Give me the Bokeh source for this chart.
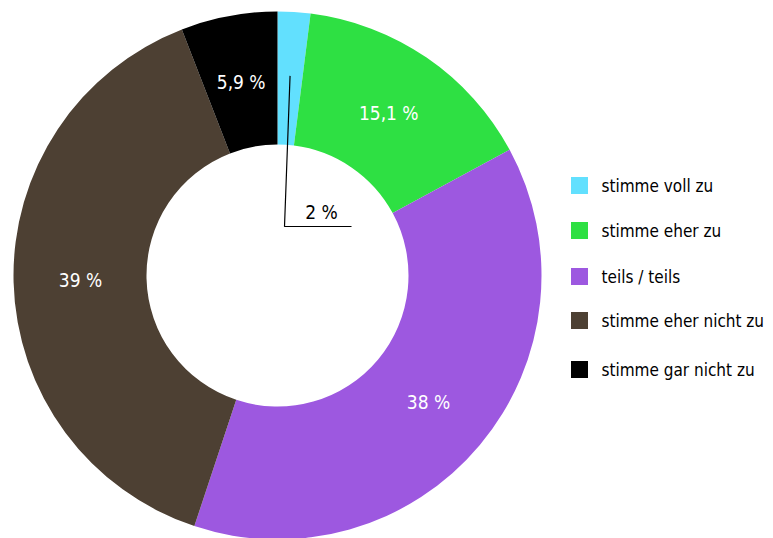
import math
from bokeh.plotting import figure
from bokeh.models import Range1d, ColumnDataSource
from bokeh.core.properties import value
from bokeh.embed import file_html
from bokeh.resources import INLINE

categories = ["stimme voll zu", "stimme eher zu", "teils / teils", "stimme eher nicht zu", "stimme gar nicht zu"]
values = [2.0, 15.1, 38.0, 39.0, 5.9]
labels = ["2 %", "15,1 %", "38 %", "39 %", "5,9 %"]
colors = ["#62e0fe", "#2ee043", "#9d58e0", "#4d4033", "#000000"]

W, H = 773, 538
FONT = "DejaVu Sans Condensed, DejaVu Sans"

p = figure(width=W, height=H, output_backend="svg", toolbar_location=None,
           x_range=Range1d(0, W), y_range=Range1d(0, H), min_border=0)
p.axis.visible = False
p.grid.visible = False
p.outline_line_color = None

cx, cy = 277, H - 275
r_in, r_out = 131, 264
total = sum(values)
starts, ends, mids = [], [], []
cum = 0.0
for v in values:
    a0 = math.pi / 2 - 2 * math.pi * cum / total
    cum += v
    a1 = math.pi / 2 - 2 * math.pi * cum / total
    starts.append(a0)
    ends.append(a1)
    mids.append((a0 + a1) / 2)

src = ColumnDataSource(dict(start=starts, end=ends, color=colors))
p.annular_wedge(x=cx, y=cy, inner_radius=r_in, outer_radius=r_out,
                start_angle="start", end_angle="end", direction="clock",
                fill_color="color", line_color=None, source=src)

# labels inside wedges (except the first small one)
r_lab = 197
lx = [cx + r_lab * math.cos(m) for m in mids[1:]]
ly = [cy + r_lab * math.sin(m) for m in mids[1:]]
p.text(x=lx, y=ly, text=labels[1:], text_color="white", text_align="center",
       text_baseline="middle", text_font=value(FONT), text_font_size="19px")

# leader line for small slice
sx = cx + 200 * math.cos(mids[0])
sy = cy + 200 * math.sin(mids[0])
ex, ey = 284, H - 226
p.line(x=[sx, ex, 351], y=[sy, ey, ey], line_color="black", line_width=1.2)
p.text(x=[321], y=[ey + 4], text=[labels[0]], text_color="black", text_align="center",
       text_baseline="bottom", text_font=value(FONT), text_font_size="19px")

# legend
ly0 = [185, 230, 276, 320, 369]
p.rect(x=[579] * 5, y=[H - y for y in ly0], width=17, height=17, fill_color=colors, line_color=None)
p.text(x=[601] * 5, y=[H - y for y in ly0], text=categories, text_color="black",
       text_baseline="middle", text_font=value(FONT), text_font_size="17px")

open("out.html", "w").write(file_html(p, INLINE))
